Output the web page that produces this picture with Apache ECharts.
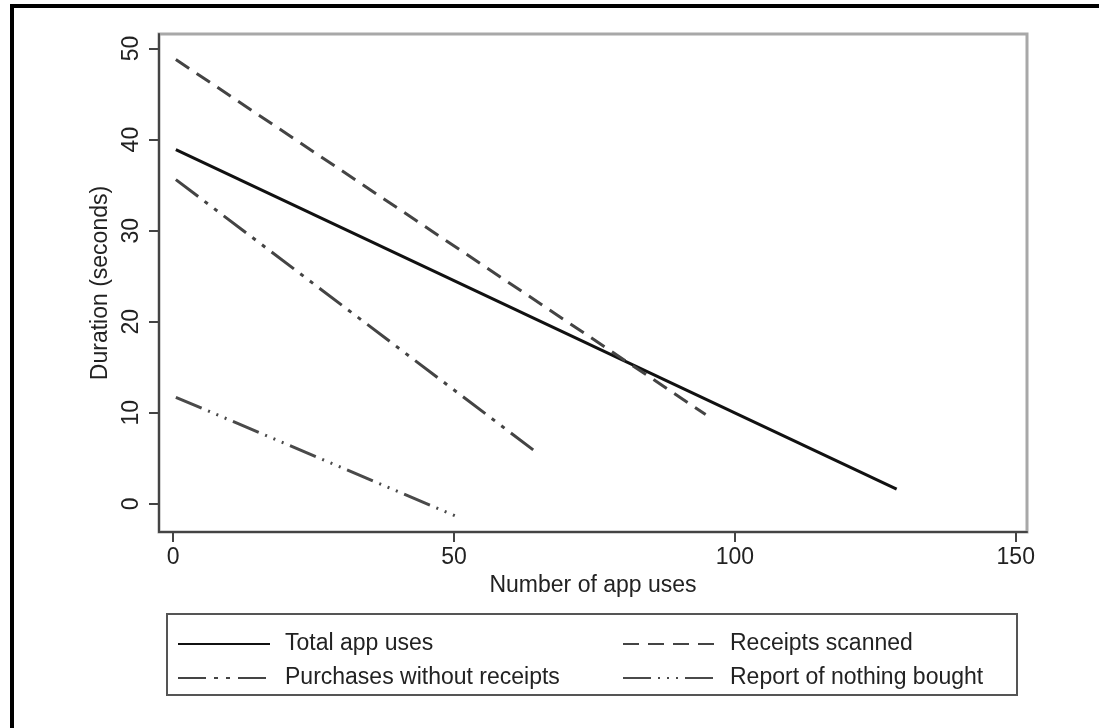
<!DOCTYPE html>
<html>
<head>
<meta charset="utf-8">
<script src="https://cdn.jsdelivr.net/npm/echarts@6/dist/echarts.min.js"></script>
<style>
  html, body { margin: 0; padding: 0; background: #fff; }
  #chart { width: 1099px; height: 728px; }
</style>
</head>
<body>
<div id="chart"></div>
<script>
// fitted lines, start and end point of each
const seriesNames = ['Total app uses', 'Receipts scanned', 'Purchases without receipts', 'Report of nothing bought'];
const totalX = [0.5, 128.8];
const totalY = [38.9, 1.6];
const receiptsX = [0.5, 94.8];
const receiptsY = [48.8, 9.8];
const purchasesX = [0.5, 64.8];
const purchasesY = [35.6, 5.6];
const nothingX = [0.5, 50.5];
const nothingY = [11.7, -1.4];
const xTicks = [0, 50, 100, 150];
const yTicks = [0, 10, 20, 30, 40, 50];

const pairs = (xs, ys) => xs.map((x, i) => [x, ys[i]]);

const font = '"Liberation Sans", Arial, sans-serif';
const myChart = echarts.init(document.getElementById('chart'), null, { renderer: 'canvas' });

const lineSeries = (name, data, color, width, dash) => ({
  name: name,
  type: 'line',
  data: data,
  symbol: 'none',
  silent: true,
  lineStyle: { color: color, width: width, type: dash, cap: 'butt' },
  itemStyle: { color: color }
});

const legendCommon = {
  orient: 'vertical',
  itemWidth: 92,
  itemHeight: 14,
  itemGap: 8,
  itemStyle: { opacity: 0 },
  textStyle: { fontFamily: font, fontSize: 23, color: '#222', lineHeight: 26, padding: [0, 0, 0, 10] },
  selectedMode: false
};

const option = {
  animation: false,
  backgroundColor: '#fff',
  grid: {
    left: 159, right: 72, top: 34, bottom: 196,
    show: true, borderColor: '#a8a8a8', borderWidth: 3
  },
  xAxis: {
    type: 'value',
    min: -2.5,
    max: 152,
    name: 'Number of app uses',
    nameLocation: 'middle',
    nameGap: 40,
    nameTextStyle: { fontFamily: font, fontSize: 23, color: '#222' },
    axisLine: { onZero: false, lineStyle: { color: '#444', width: 2 } },
    axisTick: { show: true, customValues: xTicks, length: 10, lineStyle: { color: '#444', width: 2 } },
    axisLabel: { customValues: xTicks, fontFamily: font, fontSize: 23, color: '#222', margin: 14 },
    splitLine: { show: false }
  },
  yAxis: {
    type: 'value',
    min: -3.1,
    max: 51.6,
    name: 'Duration (seconds)',
    nameLocation: 'middle',
    nameGap: 44,
    nameRotate: 90,
    nameTextStyle: { fontFamily: font, fontSize: 23, color: '#222' },
    axisLine: { onZero: false, lineStyle: { color: '#444', width: 2 } },
    axisTick: { show: true, customValues: yTicks, length: 10, lineStyle: { color: '#444', width: 2 } },
    axisLabel: { customValues: yTicks, rotate: 90, fontFamily: font, fontSize: 23, color: '#222', margin: 16 },
    splitLine: { show: false }
  },
  legend: [
    Object.assign({}, legendCommon, { left: 172, top: 626, data: [seriesNames[0], seriesNames[2]] }),
    Object.assign({}, legendCommon, { left: 617, top: 626, data: [seriesNames[1], seriesNames[3]] })
  ],
  graphic: [
    { type: 'rect', shape: { x: 167, y: 614, width: 850, height: 81 }, style: { fill: 'none', stroke: '#555', lineWidth: 2 }, silent: true },
    { type: 'rect', shape: { x: 10, y: 4, width: 4, height: 724 }, style: { fill: '#000' }, silent: true },
    { type: 'rect', shape: { x: 10, y: 4, width: 1089, height: 4 }, style: { fill: '#000' }, silent: true }
  ],
  series: [
    lineSeries(seriesNames[0], pairs(totalX, totalY), '#111', 3, 'solid'),
    lineSeries(seriesNames[1], pairs(receiptsX, receiptsY), '#444', 3, [16, 9]),
    lineSeries(seriesNames[2], pairs(purchasesX, purchasesY), '#444', 3, [28, 8, 4, 8, 4, 8]),
    lineSeries(seriesNames[3], pairs(nothingX, nothingY), '#4a4a4a', 3, [28, 7, 2, 7, 2, 7, 2, 7])
  ]
};
myChart.setOption(option);
</script>
</body>
</html>
